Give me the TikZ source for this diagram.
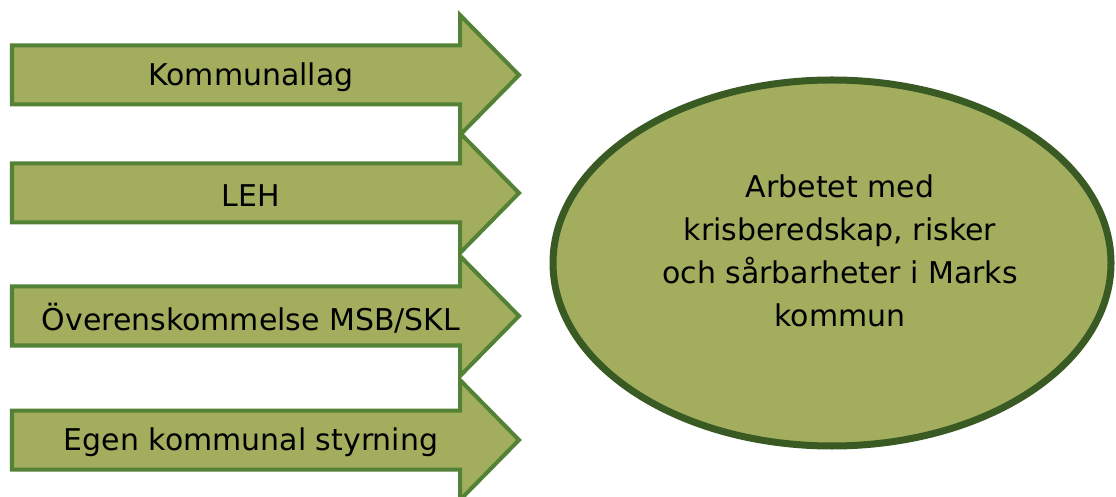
\documentclass[tikz,border=0pt]{standalone}
\usepackage{fontspec}
\setmainfont{DejaVu Sans}
\usepackage{xcolor}

\definecolor{olivfyll}{HTML}{A3AD5E}
\definecolor{pilkant}{HTML}{538135}
\definecolor{ellipskant}{HTML}{3A5A24}

\tikzset{
    pil/.style={draw=pilkant, fill=olivfyll, line width=0.1cm},
    piltext/.style={font=\fontsize{21.3}{30.6}\selectfont, inner sep=0pt},
    krets/.style={draw=ellipskant, fill=olivfyll, line width=0.175cm},
    mittext/.style={font=\fontsize{21.3}{30.6}\selectfont, align=center, inner sep=0pt}
}

\begin{document}
\begin{tikzpicture}[x=0.025cm, y=-0.025cm]

    \useasboundingbox (0, 0) rectangle (1116, 497);

    % Arrows on the left
    \foreach \y/\namn/\txt in {75/lag/Kommunallag, 193/leh/LEH, 316/msb/{Överenskommelse MSB/SKL}, 440/egen/{Egen kommunal styrning}} {
        \draw[pil] (12, {\y-29.5}) -- (460, {\y-29.5}) -- (460, {\y-60}) -- (519, \y)
            -- (460, {\y+60}) -- (460, {\y+29.5}) -- (12, {\y+29.5}) -- cycle;
        \node[piltext] (\namn) at (251, {\y+2.5}) {\txt};
    }

    % Ellipse on the right
    \draw[krets] (832, 263) ellipse [x radius=279, y radius=183];
    \node[mittext] (arbete) at (840, 251) {Arbetet med\\krisberedskap, risker\\och sårbarheter i Marks\\kommun};

\end{tikzpicture}
\end{document}
